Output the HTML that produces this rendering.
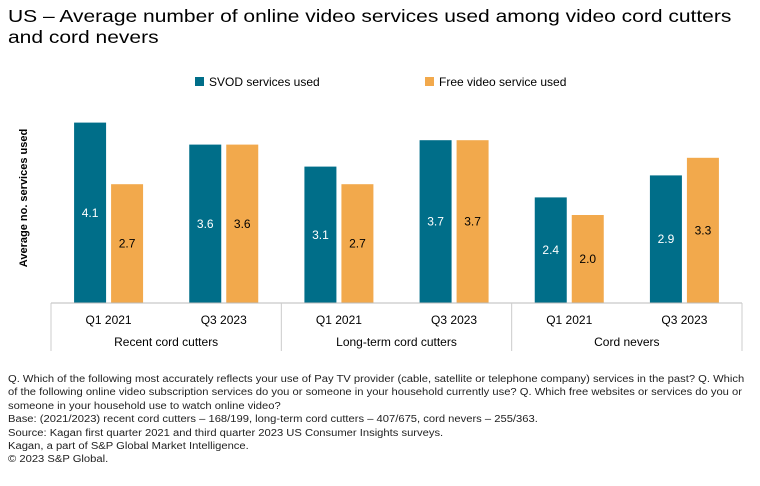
<!DOCTYPE html>
<html><head><meta charset="utf-8"><style>
body{margin:0;background:#fff;font-family:"Liberation Sans",sans-serif;}
#wrap{position:relative;width:760px;height:486px;overflow:hidden;}
h1{position:absolute;left:8px;top:6px;margin:0;font-size:17.5px;font-weight:normal;line-height:21px;color:#000;white-space:nowrap;transform:scaleX(1.2);transform-origin:left top;}
.notes{position:absolute;left:8px;top:373px;font-size:10px;line-height:13.4px;color:#222;white-space:nowrap;transform:scaleX(1.12);transform-origin:left top;}
</style></head><body>
<div id="wrap">
<h1>US – Average number of online video services used among video cord cutters<br>and cord nevers</h1>
<svg id="chart" width="760" height="370" style="position:absolute;left:0;top:0"></svg>
<div class="notes">Q. Which of the following most accurately reflects your use of Pay TV provider (cable, satellite or telephone company) services in the past? Q. Which<br>of the following online video subscription services do you or someone in your household currently use? Q. Which free websites or services do you or<br>someone in your household use to watch online video?<br>Base: (2021/2023) recent cord cutters – 168/199, long-term cord cutters – 407/675, cord nevers – 255/363.<br>Source: Kagan first quarter 2021 and third quarter 2023 US Consumer Insights surveys.<br>Kagan, a part of S&amp;P Global Market Intelligence.<br>© 2023 S&amp;P Global.</div>
</div>
<script>
const groups=["Recent cord cutters","Long-term cord cutters","Cord nevers"];
const periods=["Q1 2021","Q3 2023"];
const svod=[4.1,3.6,3.1,3.7,2.4,2.9];
const free=[2.7,3.6,2.7,3.7,2.0,3.3];
const seriesNames=["SVOD services used","Free video service used"];
const colors=["#006e89","#f2a94c"];
const NS="http://www.w3.org/2000/svg";
const svg=document.getElementById('chart');
const x0=51,x1=742,base=303,k=44;
const gw=(x1-x0)/groups.length, sw=gw/periods.length;
const y=v=>base-v*k;
function mk(t,a,txt){const e=document.createElementNS(NS,t);for(const n in a)e.setAttribute(n,a[n]);if(txt!=null)e.textContent=txt;svg.appendChild(e);return e;}
let yt=mk('text',{x:0,y:0,transform:'translate(27,198) rotate(-90)','text-anchor':'middle','font-size':11,'font-weight':'bold',fill:'#000','font-family':'Liberation Sans'},'Average no. services used');


const lx=[195,425];
seriesNames.forEach((n,i)=>{
 let r=mk('rect',{x:lx[i],y:77,width:9,height:9,fill:colors[i]});
 
 
 let t=mk('text',{x:lx[i]+14,y:86,'font-size':12,fill:'#000'},n);
 
 
});
const all=[svod,free];
for(let g=0;g<groups.length;g++){for(let p=0;p<periods.length;p++){
 const idx=g*periods.length+p; const c=x0+g*gw+(p+0.5)*sw;
 all.forEach((s,si)=>{
  const bx=si===0?c-2.5-32:c+2.5;
  let b=mk('rect',{x:bx,y:y(s[idx]),width:32,height:s[idx]*k,fill:colors[si]});
  
  
  let l=mk('text',{x:bx+16,y:(y(s[idx])+base)/2+4,'text-anchor':'middle','font-size':12,fill:si?'#000':'#fff'},s[idx].toFixed(1));
  
  
 });
 let pl=mk('text',{x:c,y:324,'text-anchor':'middle','font-size':12,fill:'#000'},periods[p]);
 
 
}
 let gl=mk('text',{x:x0+(g+0.5)*gw,y:346,'text-anchor':'middle','font-size':12,fill:'#000'},groups[g]);
 
 
}
let ax=mk('line',{x1:x0,x2:x1,y1:base,y2:base,stroke:'#bbb','stroke-width':1});


for(let g=0;g<=groups.length;g++){
 let d=mk('line',{x1:x0+g*gw,x2:x0+g*gw,y1:base,y2:351,stroke:'#ccc','stroke-width':1});
 
 
}
</script>
</body></html>
